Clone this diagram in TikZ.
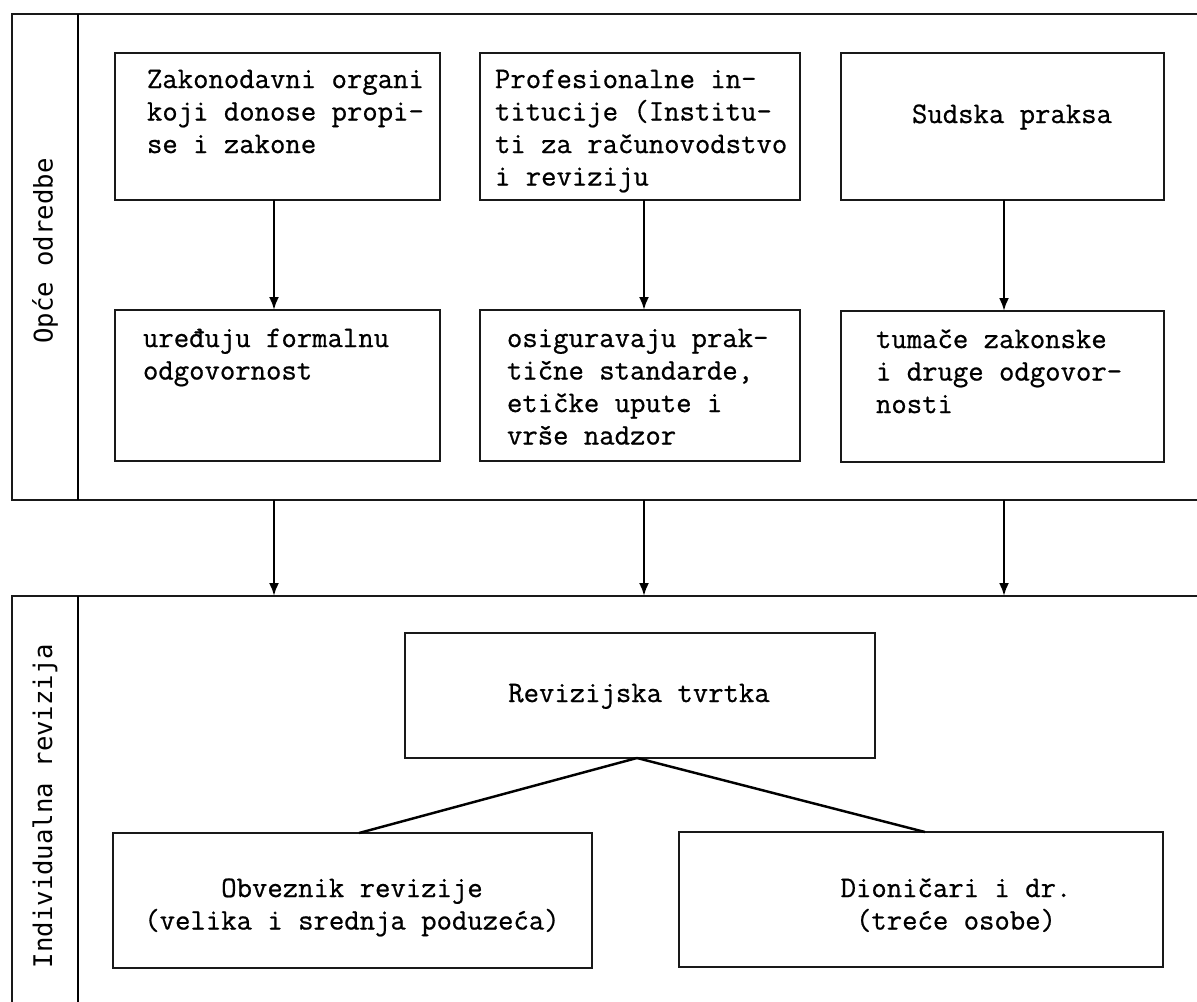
\documentclass[tikz,border=0pt]{standalone}
\usepackage{fontspec}
\newfontfamily\lblfont{DejaVu Sans Mono}
\newfontfamily\txtfont{Latin Modern Mono}[FakeBold=0.7]
\usetikzlibrary{arrows.meta}
\begin{document}
\begin{tikzpicture}[x=0.02cm,y=-0.02cm,
  frame/.style={draw=black!90,line width=1.4pt,inner sep=0pt,outer sep=0pt},
  box/.style={draw=black!90,line width=1.5pt,inner sep=0pt,outer sep=0pt},
  txt/.style={inner sep=0pt,outer sep=0pt,font=\txtfont\fontsize{17}{18.5}\selectfont},
  lbl/.style={inner sep=0pt,font=\lblfont\fontsize{14.6}{16}\selectfont,rotate=90},
  arr/.style={line width=1.4pt,-{Latex[length=2.6mm,width=2mm]}},
  conn/.style={line width=1.4pt}]
\useasboundingbox (0,0) rectangle (1197,1001);
\fill[white] (0,0) rectangle (1197,1001);
\clip (0,0) rectangle (1197,1001);

% panels
\node[frame,minimum width=24.36cm,minimum height=9.72cm] (P1) at (621,257) {};
\node[frame,minimum width=24.36cm,minimum height=8.68cm] (P2) at (621,813) {};
\draw[line width=1.4pt] (78,14) -- (78,500);
\draw[line width=1.4pt] (78,596) -- (78,1030);
\node[lbl] (L1) at (45,251) {Opće odredbe};
\node[lbl] (L2) at (45,806) {Individualna revizija};

% top row
\node[box,minimum width=6.5cm,minimum height=2.94cm] (b1) at (277.5,126.5) {};
\node[box,minimum width=6.4cm,minimum height=2.94cm] (b2) at (640,126.5) {};
\node[box,minimum width=6.46cm,minimum height=2.94cm] (b3) at (1002.5,126.5) {};
% second row
\node[box,minimum width=6.5cm,minimum height=3.02cm] (b4) at (277.5,385.5) {};
\node[box,minimum width=6.4cm,minimum height=3.02cm] (b5) at (640,385.5) {};
\node[box,minimum width=6.46cm,minimum height=3.02cm] (b6) at (1002.5,386.5) {};
% bottom panel
\node[box,minimum width=9.4cm,minimum height=2.5cm] (rev) at (640,695.5) {};
\node[box,minimum width=9.58cm,minimum height=2.7cm] (obv) at (352.5,900.5) {};
\node[box,minimum width=9.68cm,minimum height=2.7cm] (dio) at (921,899.5) {};

% texts
\node[txt,anchor=north west,align=left] (t1) at (147,65.2)
  {\rule{0pt}{13pt}Zakonodavni organi\\koji donose propi-\\se i zakone};
\node[txt,anchor=north west,align=left] (t2) at (495,65.2)
  {\rule{0pt}{13pt}Profesionalne in-\\titucije (Institu-\\ti za računovodstvo\\i reviziju};
\node[txt,anchor=north,align=center] (t3) at (1012,100.2)
  {\rule{0pt}{13pt}Sudska praksa};
\node[txt,anchor=north west,align=left] (t4) at (143,324.2)
  {\rule{0pt}{13pt}uređuju formalnu\\odgovornost};
\node[txt,anchor=north west,align=left] (t5) at (507,324.2)
  {\rule{0pt}{13pt}osiguravaju prak-\\tične standarde,\\etičke upute i\\vrše nadzor};
\node[txt,anchor=north west,align=left] (t6) at (876,325.2)
  {\rule{0pt}{13pt}tumače zakonske\\i druge odgovor-\\nosti};
\node[txt,anchor=north,align=center] (t7) at (639,679.2)
  {\rule{0pt}{13pt}Revizijska tvrtka};
\node[txt,anchor=north,align=center] (t8) at (352,874.2)
  {\rule{0pt}{13pt}Obveznik revizije\\(velika i srednja poduzeća)};
\node[txt,anchor=north,align=center] (t9) at (956,874.2)
  {\rule{0pt}{13pt}Dioničari i dr.\\(treće osobe)};

% arrow columns
\coordinate (ax1) at (274,0);
\coordinate (ax2) at (644,0);
\coordinate (ax3) at (1004,0);
\draw[arr] (b1.south -| ax1) -- (b4.north -| ax1);
\draw[arr] (b2.south -| ax2) -- (b5.north -| ax2);
\draw[arr] (b3.south -| ax3) -- (b6.north -| ax3);
\draw[arr] (P1.south -| ax1) -- (P2.north -| ax1);
\draw[arr] (P1.south -| ax2) -- (P2.north -| ax2);
\draw[arr] (P1.south -| ax3) -- (P2.north -| ax3);

% tree
\coordinate (apex) at (637,0);
\coordinate (eobv) at (359,0);
\coordinate (edio) at (925,0);
\draw[conn] (rev.south -| apex) -- (obv.north -| eobv);
\draw[conn] (rev.south -| apex) -- (dio.north -| edio);
\end{tikzpicture}
\end{document}
